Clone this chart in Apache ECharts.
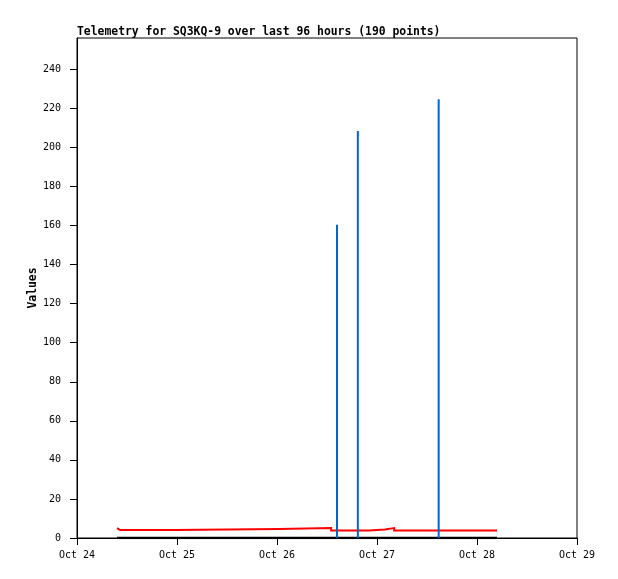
<!DOCTYPE html>
<html>
<head>
<meta charset="utf-8">
<style>html,body{margin:0;padding:0;background:#fff}#c{width:618px;height:579px}</style>
<script src="https://cdn.jsdelivr.net/npm/echarts@6/dist/echarts.min.js"></script>
</head>
<body>
<div id="c"></div>
<script>
// x values: hours since Oct 24 00:00
const xTickLabels = ['Oct 24', 'Oct 25', 'Oct 26', 'Oct 27', 'Oct 28', 'Oct 29'];
const redHours  = [9.6, 9.84, 10.32, 10.56, 23.5, 48.5, 61.0, 70.1, 73.9, 76.1, 100.8];
const redValues = [5.1, 4.1, 5.1, 4.1, 4.6, 5.1, 3.9, 4.4, 5.1, 3.9, 3.9];
const blackHours  = [9.6, 100.8];
const blackValues = [0, 0];
const blueHours  = [62.4, 67.4, 86.8];
const blueValues = [160.4, 208.4, 224.7];

const pair = (xs, ys) => xs.map((x, i) => [x, ys[i]]);
// each value holds until the next sample (step-after)
const stepAfter = (xs, ys) => {
  const out = [];
  xs.forEach((x, i) => {
    if (i > 0) out.push([x, ys[i - 1]]);
    out.push([x, ys[i]]);
  });
  return out;
};
const mono = 'DejaVu Sans Mono';

const chart = echarts.init(document.getElementById('c'), null, {renderer: 'canvas'});
chart.setOption({
  animation: false,
  backgroundColor: '#fff',
  title: {
    text: 'Telemetry for SQ3KQ-9 over last 96 hours (190 points)',
    left: 77, top: 27,
    padding: 0,
    textStyle: {fontFamily: mono, fontSize: 11.4, fontWeight: 'bold', color: '#000'}
  },
  grid: {left: 77, right: 41, top: 38, bottom: 41, show: true, borderColor: '#000', borderWidth: 1, backgroundColor: 'transparent'},
  xAxis: {
    type: 'value', min: 0, max: 120, interval: 24,
    axisLine: {lineStyle: {color: '#000', width: 1}},
    axisTick: {show: true, length: 7, inside: false, lineStyle: {color: '#000'}},
    axisLabel: {margin: 12, fontFamily: mono, fontSize: 10, color: '#000',
      formatter: v => xTickLabels[Math.round(v / 24)]},
    splitLine: {show: false}
  },
  yAxis: {
    type: 'value', min: 0, max: 256, interval: 20,
    name: 'Values', nameLocation: 'middle', nameGap: 38, nameRotate: 90,
    nameMoveOverlap: false,
    nameTextStyle: {fontFamily: mono, fontSize: 11.4, fontWeight: 'bold', color: '#000'},
    axisLine: {show: true, lineStyle: {color: '#000', width: 1}},
    axisTick: {show: true, length: 7, lineStyle: {color: '#000'}},
    axisLabel: {margin: 16, fontFamily: mono, fontSize: 10, color: '#000', showMaxLabel: false},
    splitLine: {show: false}
  },
  series: [
    {type: 'line', data: pair(blackHours, blackValues), showSymbol: false, z: 2,
     lineStyle: {color: '#000', width: 2.5}},
    {type: 'line', data: stepAfter(redHours, redValues), showSymbol: false, z: 3,
     lineStyle: {color: '#ff0000', width: 2, join: 'miter', cap: 'butt'}},
    {type: 'bar', data: pair(blueHours, blueValues), barWidth: 2, z: 4,
     itemStyle: {color: '#0066cc'}}
  ]
});
</script>
</body>
</html>
